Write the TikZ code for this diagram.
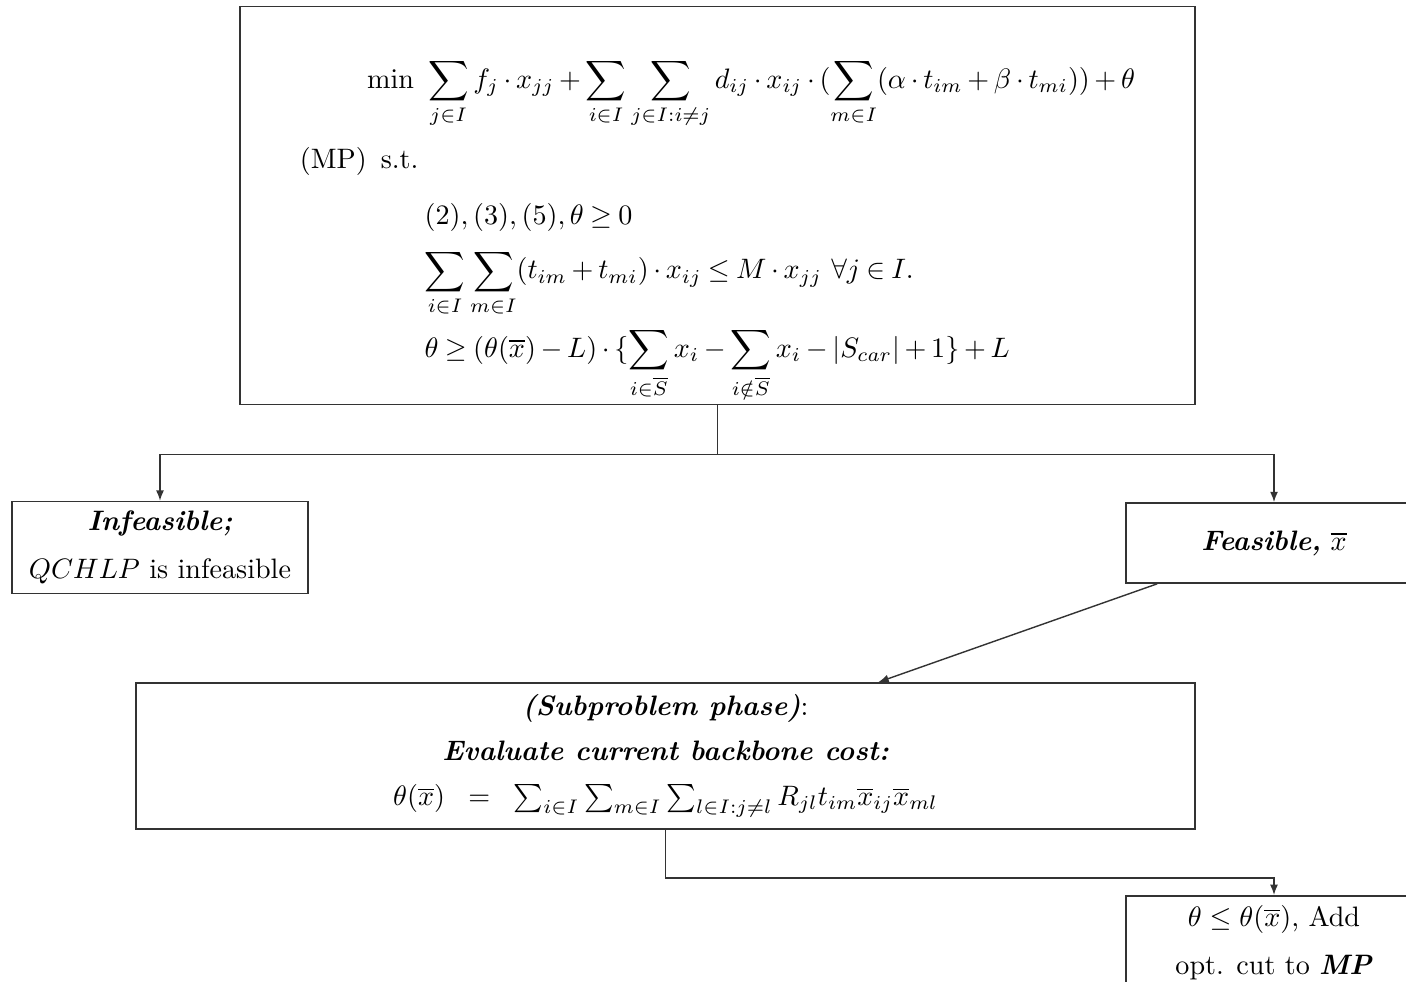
\documentclass[tikz,border=0pt]{standalone}
\usepackage{amsmath}
\usepackage{amssymb}
\usetikzlibrary{positioning, arrows.meta, calc}

\begin{document}
\begin{tikzpicture}[
    bloque/.style={rectangle, draw=black!80, line width=0.6pt, align=center, fill=white},
    flecha/.style={-{Latex[length=1.3mm, width=1mm]}, line width=0.5pt, black!80}
  ]
  \useasboundingbox (0,0) rectangle (17.575,-12.275);
  % Nodos
  \node[bloque, align=left, minimum width=11.94cm, minimum height=4.96cm, inner ysep=1.7pt,
        execute at begin node={\medmuskip=3mu\thickmuskip=4mu}] (MP) at (8.969,-2.569) {%
    \rule{0pt}{0.96cm}\hspace*{0.84cm}$\displaystyle \min\ \sum_{j\in I}f_j\cdot x_{jj}+\sum_{i\in I}\sum_{j\in I:i\neq j}d_{ij}\cdot x_{ij}\cdot(\sum_{m\in I}(\alpha\cdot t_{im}+\beta\cdot t_{mi}))+\theta$\\[2mm]
    (MP)\enspace s.t.\\[2.75mm]
    \hspace*{1.56cm}$(2),(3),(5),\theta\geq 0$\\[1.9mm]
    \hspace*{1.56cm}$\displaystyle\sum_{i\in I}\sum_{m\in I}(t_{im}+t_{mi})\cdot x_{ij}\leq M\cdot x_{jj}\ \forall j\in I.$\\[1mm]
    \hspace*{1.56cm}$\displaystyle\theta\geq(\theta(\overline{x})-L)\cdot\{\sum_{i\in\overline{S}}x_i-\sum_{i\notin\overline{S}}x_i-|S_{car}|+1\}+L$};
  \node[bloque, minimum width=3.7cm, minimum height=1.11cm] (INF) at (2.0,-6.844) {\textbf{\textit{Infeasible;}}\\[5pt] $QCHLP$ is infeasible};
  \node[bloque, minimum width=3.7cm, minimum height=1.0cm] (FEA) at (15.925,-6.7875) {\textbf{\textit{Feasible,}} $\overline{x}$};
  \node[bloque, minimum width=13.24cm, minimum height=1.825cm] (SUB) at (8.319,-9.45) {%
    \textbf{\textit{(Subproblem phase)}}:\\[4pt]
    \textbf{\textit{Evaluate current backbone cost:}}\\[4pt]
    $\theta(\overline{x})\;\;=\;\;\sum_{i\in I}\sum_{m\in I}\sum_{l\in I:j\neq l}R_{jl}t_{im}\overline{x}_{ij}\overline{x}_{ml}$};
  \node[bloque, minimum width=3.7cm, anchor=north] (CUT) at (15.925,-11.1875) {$\theta\leq\theta(\overline{x})$, Add\\[5pt] opt. cut to \textbf{\textit{MP}}};

  % Conexiones
  \coordinate (reparto) at ($(MP.south)+(0,-0.6125)$);
  \coordinate (codo) at (15.925,-10.975);
  \draw[line width=0.5pt, black!80] (MP.south) -- (reparto);
  \draw[flecha] (reparto) -| (INF.north);
  \draw[flecha] (reparto) -| (FEA.north);
  \draw[flecha] ([xshift=0.4cm]FEA.south west) -- ([xshift=2.66cm]SUB.north);
  \draw[flecha] (SUB.south) |- (codo) -- (CUT.north);
\end{tikzpicture}
\end{document}
